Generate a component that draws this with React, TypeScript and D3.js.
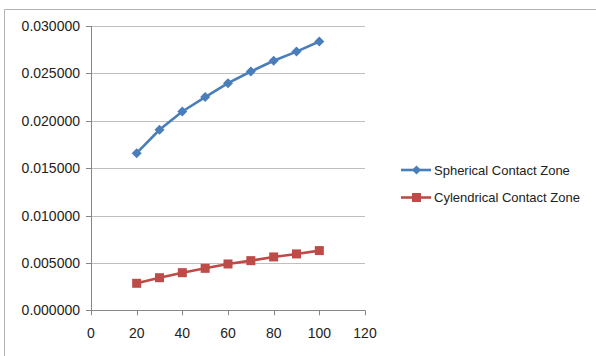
import React from "react";
import * as d3 from "d3";

const xValues = [20, 30, 40, 50, 60, 70, 80, 90, 100];
const sphericalValues = [0.01658, 0.01905, 0.02098, 0.0225, 0.02397, 0.0252, 0.02633, 0.0273, 0.02837];
const cylindricalValues = [0.00285, 0.00344, 0.00397, 0.00443, 0.00489, 0.00524, 0.00563, 0.00595, 0.0063];
const xTicks = [0, 20, 40, 60, 80, 100, 120];
const yTicks = [0, 0.005, 0.01, 0.015, 0.02, 0.025, 0.03];
const seriesNames = ["Spherical Contact Zone", "Cylendrical Contact Zone"];

const W = 596;
const H = 356;
const FONT = "'Liberation Sans', Arial, sans-serif";
const BLUE = "#4a7ebb";
const RED = "#be4b48";

export default function App() {
  const x = d3.scaleLinear().domain([0, 120]).range([91, 365]);
  const y = d3.scaleLinear().domain([0, 0.03]).range([310.3, 26]);

  const line = d3
    .line<number>()
    .x((_, i) => x(xValues[i]))
    .y((d) => y(d));

  const diamond = (cx: number, cy: number, r: number) =>
    `M${cx},${cy - r}L${cx + r},${cy}L${cx},${cy + r}L${cx - r},${cy}Z`;

  const legendY = [170, 197.5];

  return (
    <svg
      width={W}
      height={H}
      style={{ position: "fixed", left: 0, top: 0, background: "#fff" }}
      fontFamily={FONT}
    >
      <rect x={0} y={0} width={W} height={H} fill="#fff" />
      {/* chart frame */}
      <path d={`M4.5,${H}V9.5H${W}`} fill="none" stroke="#b3b3b3" strokeWidth={1} />

      {/* horizontal gridlines */}
      {yTicks.slice(1).map((t) => (
        <line
          key={"g" + t}
          x1={x(0)}
          x2={x(120)}
          y1={Math.round(y(t)) + 0.5}
          y2={Math.round(y(t)) + 0.5}
          stroke="#bfbfbf"
          strokeWidth={1}
        />
      ))}

      {/* y axis */}
      <line x1={x(0) + 0.5} x2={x(0) + 0.5} y1={y(0.03)} y2={y(0)} stroke="#868686" />
      {yTicks.map((t) => (
        <g key={"y" + t}>
          <line
            x1={x(0) - 5}
            x2={x(0)}
            y1={Math.round(y(t)) + 0.5}
            y2={Math.round(y(t)) + 0.5}
            stroke="#868686"
          />
          <text
            x={80}
            y={y(t)}
            textAnchor="end"
            dominantBaseline="central"
            fontSize={14}
            fill="#222"
          >
            {d3.format(".6f")(t)}
          </text>
        </g>
      ))}

      {/* x axis */}
      <line x1={x(0)} x2={x(120)} y1={Math.round(y(0)) + 0.5} y2={Math.round(y(0)) + 0.5} stroke="#868686" />
      {xTicks.map((t) => (
        <g key={"x" + t}>
          <line
            x1={Math.round(x(t)) + 0.5}
            x2={Math.round(x(t)) + 0.5}
            y1={y(0)}
            y2={y(0) + 5}
            stroke="#868686"
          />
          <text
            x={x(t)}
            y={333}
            textAnchor="middle"
            dominantBaseline="central"
            fontSize={14}
            fill="#222"
          >
            {t}
          </text>
        </g>
      ))}

      {/* series */}
      <path d={line(sphericalValues) ?? ""} fill="none" stroke={BLUE} strokeWidth={2.6} strokeLinejoin="round" />
      {sphericalValues.map((v, i) => (
        <path key={"s" + i} d={diamond(x(xValues[i]), y(v), 5)} fill={BLUE} />
      ))}
      <path d={line(cylindricalValues) ?? ""} fill="none" stroke={RED} strokeWidth={2.6} strokeLinejoin="round" />
      {cylindricalValues.map((v, i) => (
        <rect key={"c" + i} x={x(xValues[i]) - 4.5} y={y(v) - 4.5} width={9} height={9} fill={RED} />
      ))}

      {/* legend */}
      <line x1={401} x2={431} y1={legendY[0]} y2={legendY[0]} stroke={BLUE} strokeWidth={2.6} />
      <path d={diamond(416.5, legendY[0], 4.5)} fill={BLUE} />
      <text x={434} y={legendY[0]} dominantBaseline="central" fontSize={13} fill="#222">
        {seriesNames[0]}
      </text>
      <line x1={401} x2={431} y1={legendY[1]} y2={legendY[1]} stroke={RED} strokeWidth={2.6} />
      <rect x={412} y={legendY[1] - 4.5} width={9} height={9} fill={RED} />
      <text x={434} y={legendY[1]} dominantBaseline="central" fontSize={13} fill="#222">
        {seriesNames[1]}
      </text>
    </svg>
  );
}
